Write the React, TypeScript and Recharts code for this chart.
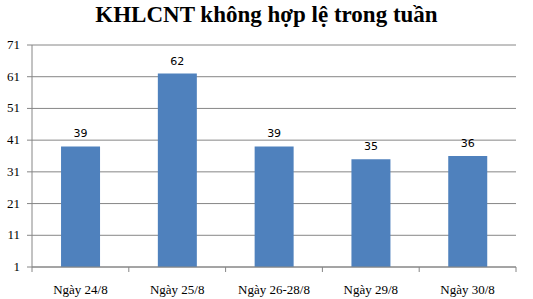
import React from 'react';
import { BarChart, Bar, XAxis, YAxis, CartesianGrid, LabelList } from 'recharts';

const categories = ['Ngày 24/8', 'Ngày 25/8', 'Ngày 26-28/8', 'Ngày 29/8', 'Ngày 30/8'];
const counts = [39, 62, 39, 35, 36];
const yTicks = [1, 11, 21, 31, 41, 51, 61, 71];

const data = categories.map((name, i) => ({ name, value: counts[i] }));

const W = 533;
const H = 299;
const LEFT = 32;
const RIGHT = 17;
const BAND = (W - LEFT - RIGHT) / categories.length;
const AXIS_GRAY = '#868686';
const SERIF = "'Liberation Serif', 'Times New Roman', serif";

// category ticks sit on band boundaries, like Excel
const CategoryTick = (props: any) => {
  const { x, y, payload, index } = props;
  const top = y - 8;
  return (
    <g>
      <line x1={x - BAND / 2} x2={x - BAND / 2} y1={top} y2={top + 5} stroke={AXIS_GRAY} />
      {index === categories.length - 1 && (
        <line x1={x + BAND / 2} x2={x + BAND / 2} y1={top} y2={top + 5} stroke={AXIS_GRAY} />
      )}
      <text x={x} y={top + 27} textAnchor="middle" fontFamily={SERIF} fontSize={13} fill="#000">
        {payload.value}
      </text>
    </g>
  );
};

const ValueTick = (props: any) => {
  const { x, y, payload } = props;
  return (
    <text x={x} y={y + 4} textAnchor="end" fontFamily={SERIF} fontSize={13} fill="#000">
      {payload.value}
    </text>
  );
};

export default function App() {
  return (
    <div style={{ position: 'absolute', left: 0, top: 0, width: W, height: H, background: '#fff' }}>
      <div
        style={{
          position: 'absolute',
          left: 0,
          top: 1,
          width: W,
          textAlign: 'center',
          fontFamily: SERIF,
          fontWeight: 'bold',
          fontSize: 23,
          lineHeight: '28px',
        }}
      >
        KHLCNT không hợp lệ trong tuần
      </div>
      <BarChart width={W} height={H} data={data} margin={{ top: 45, right: RIGHT, bottom: 0, left: 0 }} barCategoryGap="30%">
        <CartesianGrid vertical={false} stroke={AXIS_GRAY} strokeDasharray="" />
        <XAxis
          dataKey="name"
          height={32}
          stroke={AXIS_GRAY}
          tickLine={false}
          tick={<CategoryTick />}
          interval={0}
        />
        <YAxis
          width={LEFT}
          domain={[1, 71]}
          ticks={yTicks}
          interval={0}
          stroke={AXIS_GRAY}
          tickSize={5}
          tickMargin={7}
          tick={<ValueTick />}
        />
        <Bar dataKey="value" fill="#4F81BD" isAnimationActive={false}>
          <LabelList dataKey="value" position="top" offset={9} fill="#000" fontFamily="'DejaVu Sans', sans-serif" fontSize={11} />
        </Bar>
      </BarChart>
    </div>
  );
}
